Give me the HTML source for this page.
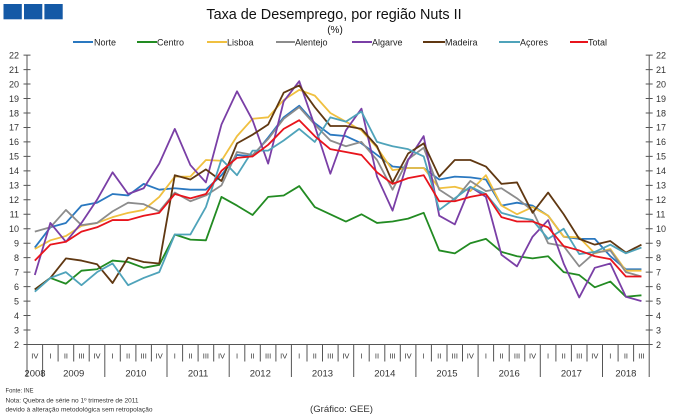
<!DOCTYPE html>
<html><head><meta charset="utf-8"><style>
html,body{margin:0;padding:0;background:#fff;}
svg{display:block;font-family:"Liberation Sans",Arial,sans-serif;}
</style></head><body>
<svg width="680" height="418" viewBox="0 0 680 418" xmlns="http://www.w3.org/2000/svg">
<rect x="0" y="0" width="680" height="418" fill="#fff"/>
<!-- logo -->
<rect x="3.5" y="4" width="18.3" height="15.3" fill="#1459a6"/>
<rect x="24" y="4" width="18.3" height="15.3" fill="#1459a6"/>
<rect x="44.4" y="4" width="18.3" height="15.3" fill="#1459a6"/>
<!-- title -->
<text x="334" y="19" font-size="14.4" text-anchor="middle" fill="#111">Taxa de Desemprego, por região Nuts II</text>
<text x="335" y="33" font-size="10" text-anchor="middle" fill="#111">(%)</text>
<!-- legend -->
<g stroke-width="2" fill="none">
<line x1="73" y1="42" x2="93" y2="42" stroke="#2a78c0"/>
<line x1="137" y1="42" x2="157" y2="42" stroke="#228b22"/>
<line x1="207" y1="42" x2="227" y2="42" stroke="#f0c040"/>
<line x1="276" y1="42" x2="295" y2="42" stroke="#8c8c8c"/>
<line x1="352" y1="42" x2="372" y2="42" stroke="#7a3fa6"/>
<line x1="423" y1="42" x2="445" y2="42" stroke="#603812"/>
<line x1="499" y1="42" x2="520" y2="42" stroke="#4fa3ba"/>
<line x1="570" y1="42" x2="588" y2="42" stroke="#e8141c"/>
</g>
<g font-size="9" fill="#222">
<text x="94" y="45.5">Norte</text>
<text x="157" y="45.5">Centro</text>
<text x="227" y="45.5">Lisboa</text>
<text x="295" y="45.5">Alentejo</text>
<text x="372" y="45.5">Algarve</text>
<text x="445" y="45.5">Madeira</text>
<text x="520" y="45.5">Açores</text>
<text x="588" y="45.5">Total</text>
</g>
<!-- axes -->
<g stroke="#555" stroke-width="1" fill="none">
<line x1="27" y1="55.1" x2="27" y2="377"/>
<line x1="649.2" y1="55.1" x2="649.2" y2="377"/>
<line x1="27" y1="344.5" x2="649.2" y2="344.5"/>
<path d="M23.5 55.1h7M23.5 69.57h7M23.5 84.04h7M23.5 98.51h7M23.5 112.98h7M23.5 127.45h7M23.5 141.92h7M23.5 156.39h7M23.5 170.86h7M23.5 185.33h7M23.5 199.8h7M23.5 214.27h7M23.5 228.74h7M23.5 243.21h7M23.5 257.68h7M23.5 272.15h7M23.5 286.62h7M23.5 301.09h7M23.5 315.56h7M23.5 330.03h7M23.5 344.5h7"/>
<path d="M645.7 55.1h7M645.7 69.57h7M645.7 84.04h7M645.7 98.51h7M645.7 112.98h7M645.7 127.45h7M645.7 141.92h7M645.7 156.39h7M645.7 170.86h7M645.7 185.33h7M645.7 199.8h7M645.7 214.27h7M645.7 228.74h7M645.7 243.21h7M645.7 257.68h7M645.7 272.15h7M645.7 286.62h7M645.7 301.09h7M645.7 315.56h7M645.7 330.03h7M645.7 344.5h7"/>
<!-- quarter dividers -->
<path d="M58.1 344.5v17M73.7 344.5v17M89.2 344.5v17M120.3 344.5v17M135.9 344.5v17M151.4 344.5v17M182.6 344.5v17M198.1 344.5v17M213.7 344.5v17M244.8 344.5v17M260.3 344.5v17M275.9 344.5v17M307 344.5v17M322.5 344.5v17M338.1 344.5v17M369.2 344.5v17M384.8 344.5v17M400.3 344.5v17M431.4 344.5v17M447 344.5v17M462.5 344.5v17M493.6 344.5v17M509.2 344.5v17M524.8 344.5v17M555.9 344.5v17M571.4 344.5v17M587 344.5v17M618.1 344.5v17M633.6 344.5v17"/>
<!-- year dividers -->
<path d="M42.6 344.5v32.5M104.8 344.5v32.5M167 344.5v32.5M229.2 344.5v32.5M291.4 344.5v32.5M353.7 344.5v32.5M415.9 344.5v32.5M478.1 344.5v32.5M540.3 344.5v32.5M602.5 344.5v32.5"/>
</g>
<!-- y labels -->
<g font-size="9" fill="#333" text-anchor="end">
<text x="19" y="58.4">22</text><text x="19" y="72.9">21</text><text x="19" y="87.3">20</text><text x="19" y="101.8">19</text><text x="19" y="116.3">18</text><text x="19" y="130.7">17</text><text x="19" y="145.2">16</text><text x="19" y="159.7">15</text><text x="19" y="174.2">14</text><text x="19" y="188.6">13</text><text x="19" y="203.1">12</text><text x="19" y="217.6">11</text><text x="19" y="232">10</text><text x="19" y="246.5">9</text><text x="19" y="261">8</text><text x="19" y="275.5">7</text><text x="19" y="289.9">6</text><text x="19" y="304.4">5</text><text x="19" y="318.9">4</text><text x="19" y="333.3">3</text><text x="19" y="347.8">2</text>
</g>
<g font-size="9" fill="#333">
<text x="656" y="58.4">22</text><text x="656" y="72.9">21</text><text x="656" y="87.3">20</text><text x="656" y="101.8">19</text><text x="656" y="116.3">18</text><text x="656" y="130.7">17</text><text x="656" y="145.2">16</text><text x="656" y="159.7">15</text><text x="656" y="174.2">14</text><text x="656" y="188.6">13</text><text x="656" y="203.1">12</text><text x="656" y="217.6">11</text><text x="656" y="232">10</text><text x="656" y="246.5">9</text><text x="656" y="261">8</text><text x="656" y="275.5">7</text><text x="656" y="289.9">6</text><text x="656" y="304.4">5</text><text x="656" y="318.9">4</text><text x="656" y="333.3">3</text><text x="656" y="347.8">2</text>
</g>
<!-- quarter labels -->
<g font-size="7.5" fill="#333" text-anchor="middle">
<text x="34.8" y="358.5">IV</text>
<text x="50.4" y="358.5">I</text><text x="65.9" y="358.5">II</text><text x="81.5" y="358.5">III</text><text x="97" y="358.5">IV</text>
<text x="112.6" y="358.5">I</text><text x="128.1" y="358.5">II</text><text x="143.7" y="358.5">III</text><text x="159.2" y="358.5">IV</text>
<text x="174.8" y="358.5">I</text><text x="190.4" y="358.5">II</text><text x="205.9" y="358.5">III</text><text x="221.5" y="358.5">IV</text>
<text x="237" y="358.5">I</text><text x="252.6" y="358.5">II</text><text x="268.1" y="358.5">III</text><text x="283.7" y="358.5">IV</text>
<text x="299.2" y="358.5">I</text><text x="314.8" y="358.5">II</text><text x="330.3" y="358.5">III</text><text x="345.9" y="358.5">IV</text>
<text x="361.5" y="358.5">I</text><text x="377" y="358.5">II</text><text x="392.6" y="358.5">III</text><text x="408.1" y="358.5">IV</text>
<text x="423.7" y="358.5">I</text><text x="439.2" y="358.5">II</text><text x="454.8" y="358.5">III</text><text x="470.3" y="358.5">IV</text>
<text x="485.9" y="358.5">I</text><text x="501.5" y="358.5">II</text><text x="517" y="358.5">III</text><text x="532.6" y="358.5">IV</text>
<text x="548.1" y="358.5">I</text><text x="563.7" y="358.5">II</text><text x="579.2" y="358.5">III</text><text x="594.8" y="358.5">IV</text>
<text x="610.3" y="358.5">I</text><text x="625.9" y="358.5">II</text><text x="641.4" y="358.5">III</text>
</g>
<!-- year labels -->
<g font-size="9.5" fill="#333" text-anchor="middle">
<text x="35" y="376.5">2008</text><text x="73.7" y="376.5">2009</text><text x="135.9" y="376.5">2010</text><text x="198.1" y="376.5">2011</text><text x="260.3" y="376.5">2012</text><text x="322.5" y="376.5">2013</text><text x="384.8" y="376.5">2014</text><text x="447" y="376.5">2015</text><text x="509.2" y="376.5">2016</text><text x="571.4" y="376.5">2017</text><text x="625.9" y="376.5">2018</text>
</g>
<!-- series -->
<g transform="matrix(15.555 0 0 -14.47 34.8 373.44)" fill="none" stroke-width="1.8" stroke-linejoin="round">
<polyline vector-effect="non-scaling-stroke" stroke="#2a78c0" points="0,8.7 1,10.1 2,10.4 3,11.6 4,11.8 5,12.4 6,12.3 7,13.1 8,12.7 9,12.8 10,12.7 11,12.7 12,13.7 13,15.1 14,15.0 15,16.3 16,17.7 17,18.5 18,17.3 19,16.5 20,16.4 21,15.9 22,15.1 23,14.3 24,14.2 25,14.2 26,13.4 27,13.6 28,13.55 29,13.4 30,11.6 31,11.8 32,11.6 33,10.9 34,9.45 35,9.3 36,9.3 37,8.1 38,7.2 39,7.2"/>
<polyline vector-effect="non-scaling-stroke" stroke="#228b22" points="0,5.8 1,6.6 2,6.2 3,7.1 4,7.2 5,7.8 6,7.7 7,7.3 8,7.5 9,9.6 10,9.25 11,9.2 12,12.2 13,11.6 14,10.95 15,12.2 16,12.3 17,12.95 18,11.5 19,11.0 20,10.5 21,11.0 22,10.4 23,10.5 24,10.7 25,11.1 26,8.5 27,8.3 28,9.0 29,9.3 30,8.4 31,8.1 32,7.95 33,8.1 34,7.0 35,6.8 36,5.95 37,6.35 38,5.3 39,5.4"/>
<polyline vector-effect="non-scaling-stroke" stroke="#f0c040" points="0,8.6 1,9.2 2,9.5 3,10.2 4,10.4 5,10.8 6,11.1 7,11.3 8,12.2 9,13.6 10,13.6 11,14.75 12,14.7 13,16.4 14,17.6 15,17.7 16,18.9 17,19.6 18,19.2 19,18.0 20,17.4 21,16.8 22,15.6 23,14.05 24,14.2 25,14.2 26,12.8 27,12.9 28,12.6 29,13.7 30,11.6 31,11.0 32,11.5 33,10.9 34,9.45 35,9.4 36,8.3 37,8.6 38,7.1 39,7.1"/>
<polyline vector-effect="non-scaling-stroke" stroke="#8c8c8c" points="0,9.8 1,10.1 2,11.3 3,10.25 4,10.4 5,11.2 6,11.8 7,11.7 8,11.2 9,12.5 10,11.9 11,12.3 12,13.0 13,15.3 14,15.1 15,16.2 16,17.6 17,18.4 18,17.2 19,16.1 20,15.7 21,16.0 22,14.75 23,12.7 24,14.8 25,15.6 26,12.7 27,12.0 28,13.3 29,12.6 30,12.8 31,12.1 32,11.25 33,9.0 34,8.8 35,7.4 36,8.35 37,8.5 38,7.0 39,6.7"/>
<polyline vector-effect="non-scaling-stroke" stroke="#7a3fa6" points="0,6.8 1,10.4 2,9.1 3,10.4 4,12.0 5,13.9 6,12.4 7,12.8 8,14.5 9,16.9 10,14.4 11,13.2 12,17.2 13,19.5 14,17.5 15,14.5 16,18.8 17,20.2 18,17.1 19,13.8 20,16.8 21,18.3 22,13.6 23,11.25 24,14.75 25,16.4 26,10.9 27,10.3 28,12.9 29,12.2 30,8.2 31,7.4 32,9.45 33,10.6 34,7.6 35,5.25 36,7.3 37,7.6 38,5.3 39,5.0"/>
<polyline vector-effect="non-scaling-stroke" stroke="#603812" points="0,5.8 1,6.6 2,7.95 3,7.8 4,7.55 5,6.25 6,8.0 7,7.7 8,7.6 9,13.7 10,13.4 11,14.1 12,13.3 13,15.9 14,16.5 15,17.2 16,19.4 17,19.9 18,18.4 19,17.1 20,17.1 21,16.9 22,15.7 23,13.2 24,15.2 25,15.9 26,13.6 27,14.75 28,14.75 29,14.3 30,13.1 31,13.2 32,11.1 33,12.5 34,11.0 35,9.3 36,8.9 37,9.15 38,8.35 39,8.9"/>
<polyline vector-effect="non-scaling-stroke" stroke="#4fa3ba" points="0,5.65 1,6.6 2,7.0 3,6.1 4,7.0 5,7.6 6,6.1 7,6.6 8,7.0 9,9.6 10,9.6 11,11.5 12,14.8 13,13.7 14,15.4 15,15.4 16,16.1 17,16.9 18,16.0 19,17.7 20,17.4 21,18.1 22,16.0 23,15.7 24,15.5 25,15.0 26,11.3 27,12.1 28,12.9 29,12.4 30,11.1 31,10.8 32,10.6 33,9.3 34,10.0 35,8.25 36,8.4 37,8.9 38,8.3 39,8.7"/>
<polyline vector-effect="non-scaling-stroke" stroke="#e8141c" points="0,7.8 1,8.9 2,9.1 3,9.8 4,10.1 5,10.6 6,10.6 7,10.9 8,11.1 9,12.4 10,12.1 11,12.4 12,14.0 13,14.9 14,15.0 15,15.8 16,16.9 17,17.5 18,16.4 19,15.5 20,15.3 21,15.1 22,13.9 23,13.1 24,13.5 25,13.7 26,11.9 27,11.9 28,12.2 29,12.4 30,10.8 31,10.5 32,10.5 33,10.1 34,8.8 35,8.5 36,8.1 37,7.9 38,6.7 39,6.7"/>
</g>
<!-- footer -->
<g font-size="6" fill="#333">
<text x="5.5" y="392.5" textLength="28" lengthAdjust="spacingAndGlyphs">Fonte: INE</text>
<text x="5.5" y="402.5" textLength="133" lengthAdjust="spacingAndGlyphs">Nota: Quebra de série no 1º trimestre de 2011</text>
<text x="5.5" y="411.5" textLength="147" lengthAdjust="spacingAndGlyphs">devido à alteração metodológica sem retropolação</text>
</g>
<text x="310" y="412" font-size="9.5" fill="#333" textLength="63" lengthAdjust="spacingAndGlyphs">(Gráfico: GEE)</text>
</svg>
</body></html>
